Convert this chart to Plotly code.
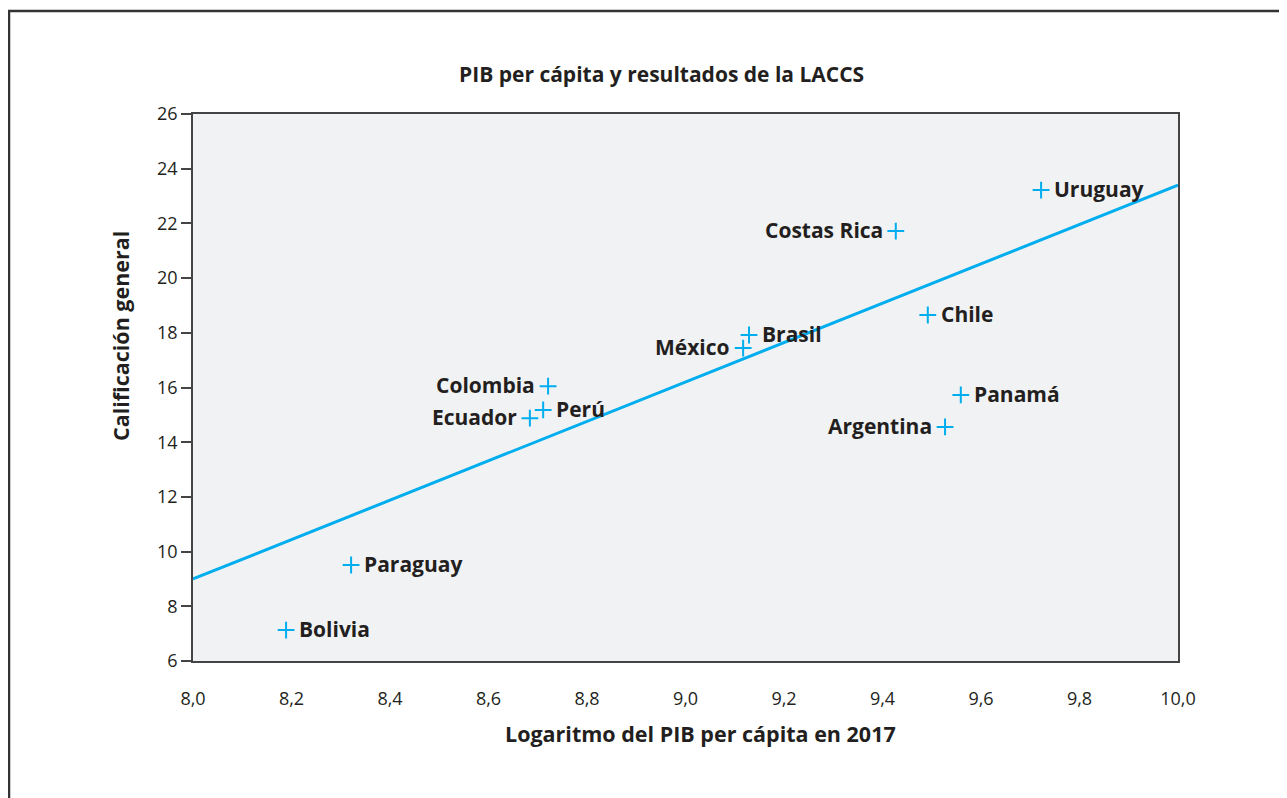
import plotly.graph_objects as go

countries = ["Uruguay", "Costas Rica", "Chile", "Brasil", "México", "Panamá",
             "Argentina", "Colombia", "Perú", "Ecuador", "Paraguay", "Bolivia"]
log_pib = [9.722, 9.427, 9.492, 9.129, 9.117, 9.559, 9.527, 8.721, 8.711, 8.684, 8.321, 8.189]
score = [23.22, 21.72, 18.65, 17.92, 17.44, 15.73, 14.56, 16.05, 15.18, 14.88, 9.51, 7.13]
label_side = ["right", "left", "right", "right", "left", "right",
              "left", "left", "right", "left", "right", "right"]

trend_x = [8.0, 10.0]
trend_y = [9.0, 23.4]

x_ticks = [8.0, 8.2, 8.4, 8.6, 8.8, 9.0, 9.2, 9.4, 9.6, 9.8, 10.0]
x_ticklabels = ["8,0", "8,2", "8,4", "8,6", "8,8", "9,0", "9,2", "9,4", "9,6", "9,8", "10,0"]
y_ticks = [6, 8, 10, 12, 14, 16, 18, 20, 22, 24, 26]

FONT = "Open Sans"
TXT = "#231f20"
BLUE = "#00aeef"

fig = go.Figure()
fig.add_trace(go.Scatter(x=trend_x, y=trend_y, mode="lines",
                         line=dict(color=BLUE, width=3), hoverinfo="skip", showlegend=False))
fig.add_trace(go.Scatter(x=log_pib, y=score, mode="markers",
                         marker=dict(symbol="cross-thin", size=12, line=dict(color=BLUE, width=2)),
                         text=countries, showlegend=False))

for c, xv, yv, side in zip(countries, log_pib, score, label_side):
    fig.add_annotation(x=xv, y=yv, text=f"<b>{c}</b>", showarrow=False,
                       xanchor="left" if side == "right" else "right",
                       xshift=11 if side == "right" else -11, yshift=1,
                       font=dict(family=FONT, size=21, color=TXT))

# titles
fig.add_annotation(xref="paper", yref="paper", x=(661 - 193) / 985, y=(661 - 74) / 547,
                   text="<b>PIB per cápita y resultados de la LACCS</b>", showarrow=False,
                   xanchor="center", yanchor="middle", font=dict(family=FONT, size=21, color=TXT))
fig.add_annotation(xref="paper", yref="paper", x=(700 - 193) / 985, y=(661 - 733) / 547,
                   text="<b>Logaritmo del PIB per cápita en 2017</b>", showarrow=False,
                   xanchor="center", yanchor="middle", font=dict(family=FONT, size=21.5, color=TXT))
fig.add_annotation(xref="paper", yref="paper", x=(120 - 193) / 985, y=(661 - 336) / 547,
                   text="<b>Calificación general</b>", showarrow=False, textangle=-90,
                   xanchor="center", yanchor="middle", font=dict(family=FONT, size=21.5, color=TXT))

# outer frame
fig.add_shape(type="rect", xref="paper", yref="paper",
              x0=(9 - 193) / 985, x1=(1300 - 193) / 985,
              y0=(661 - 810) / 547, y1=(661 - 11) / 547,
              line=dict(color="#333333", width=2.5), fillcolor="rgba(0,0,0,0)", layer="below")

fig.update_layout(
    width=1279, height=790,
    margin=dict(l=185, r=109, t=106, b=137),
    paper_bgcolor="white", plot_bgcolor="#f1f2f4",
    font=dict(family=FONT, color=TXT),
    xaxis=dict(range=[8.0, 10.0], tickvals=x_ticks, ticktext=x_ticklabels,
               showgrid=False, zeroline=False, showline=True, linecolor="#444444", linewidth=1.5,
               mirror=True, ticks="outside", ticklen=21, tickcolor="rgba(0,0,0,0)",
               tickfont=dict(family=FONT, size=18, color=TXT)),
    yaxis=dict(range=[6, 26], tickvals=y_ticks, showgrid=False, zeroline=False,
               showline=True, linecolor="#444444", linewidth=1.5, mirror=True,
               ticks="outside", ticklen=10, tickcolor="#444444", tickwidth=1.5,
               tickfont=dict(family=FONT, size=18, color=TXT)),
)

fig.write_html("out.html")
